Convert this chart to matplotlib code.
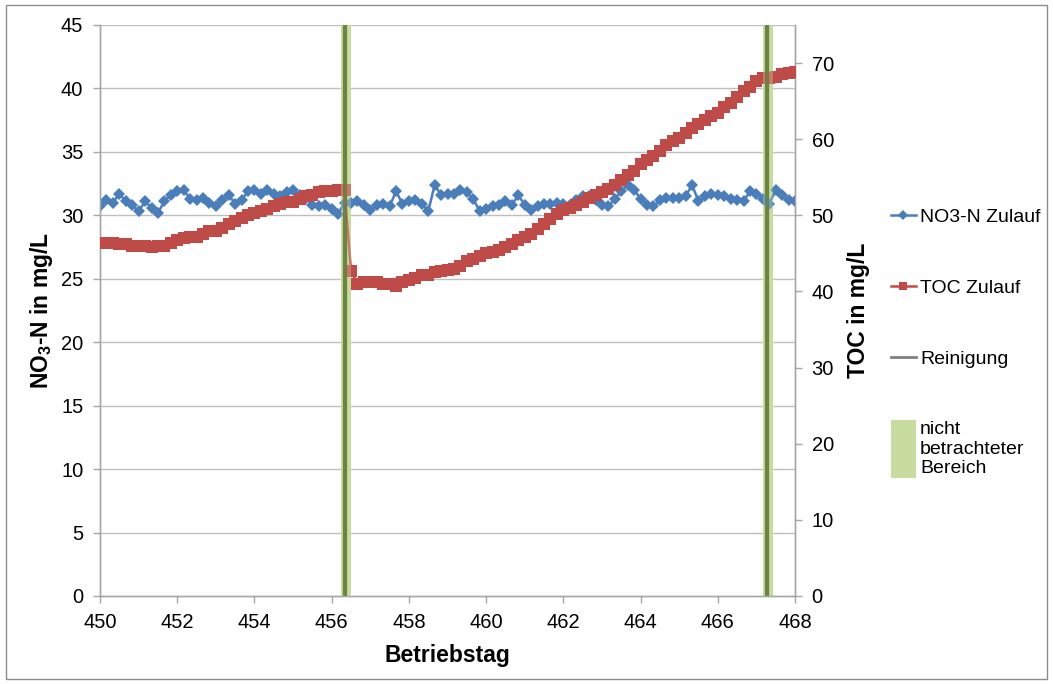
"""Nitrate and TOC in the inflow over the operating days, with cleaning events."""

import matplotlib
matplotlib.use("Agg")
import matplotlib.pyplot as plt
import numpy as np
from matplotlib.legend_handler import HandlerPatch
from matplotlib.lines import Line2D
from matplotlib.patches import Patch, Rectangle

plt.rcParams["font.family"] = ["Liberation Sans", "DejaVu Sans"]
plt.rcParams["mathtext.fontset"] = "custom"
plt.rcParams["mathtext.rm"] = "Liberation Sans"
plt.rcParams["mathtext.bf"] = "Liberation Sans:bold"

# ---------------------------------------------------------------------------
# Data (one sample every 4 hours)
# ---------------------------------------------------------------------------
days = np.linspace(450, 468, 109)

no3_n = [
    30.7, 31.2, 31.0, 31.7, 31.1, 30.8,
    30.3, 31.1, 30.6, 30.2, 31.1, 31.6,
    31.9, 32.0, 31.3, 31.2, 31.4, 31.0,
    30.7, 31.2, 31.6, 30.9, 31.2, 31.9,
    32.0, 31.7, 32.0, 31.7, 31.5, 31.8,
    32.0, 31.6, 31.4, 30.8, 30.7, 30.8,
    30.5, 30.1, 31.0, 31.0, 31.1, 30.8,
    30.4, 30.8, 30.9, 30.7, 31.9, 30.9,
    31.1, 31.2, 30.9, 30.3, 32.4, 31.6,
    31.7, 31.7, 32.0, 31.8, 31.3, 30.3,
    30.5, 30.7, 30.8, 31.1, 30.8, 31.6,
    30.8, 30.4, 30.7, 30.9, 30.9, 31.0,
    30.9, 30.8, 31.2, 31.5, 31.5, 31.2,
    30.8, 30.7, 31.3, 31.9, 32.4, 32.0,
    31.3, 30.8, 30.7, 31.2, 31.4, 31.4,
    31.4, 31.5, 32.4, 31.1, 31.5, 31.7,
    31.6, 31.5, 31.3, 31.2, 31.1, 31.9,
    31.7, 31.3, 30.9, 32.0, 31.6, 31.2,
    31.1,
]

toc = [
    46.3, 46.3, 46.3, 46.2, 46.2, 46.0,
    46.0, 46.0, 45.8, 46.0, 46.0, 46.3,
    46.8, 47.0, 47.2, 47.2, 47.5, 48.0,
    48.0, 48.3, 48.8, 49.3, 49.7, 50.0,
    50.3, 50.5, 50.8, 51.2, 51.5, 51.7,
    51.8, 52.2, 52.5, 52.7, 53.0, 53.2,
    53.2, 53.3, 53.3, 42.7, 41.0, 41.2,
    41.3, 41.2, 41.0, 41.0, 40.7, 41.3,
    41.5, 41.8, 42.2, 42.2, 42.5, 42.7,
    42.8, 43.0, 43.3, 44.0, 44.3, 44.7,
    45.0, 45.2, 45.5, 45.8, 46.2, 46.7,
    47.2, 47.5, 48.2, 48.8, 49.5, 50.2,
    50.7, 51.0, 51.3, 51.8, 52.3, 52.7,
    53.0, 53.5, 54.0, 54.7, 55.3, 55.8,
    56.7, 57.2, 57.8, 58.5, 59.2, 59.7,
    60.2, 60.8, 61.5, 62.0, 62.5, 63.0,
    63.5, 64.2, 64.8, 65.5, 66.3, 66.8,
    67.7, 68.0, 68.0, 68.2, 68.5, 68.7,
    68.8,
]

cleaning_days = [456.35, 467.28]
excluded_ranges = [(456.25, 456.50), (467.18, 467.43)]

# ---------------------------------------------------------------------------
# Styles
# ---------------------------------------------------------------------------
BLUE = "#4A7EBB"
RED = "#BE4B48"
BAND = "#C9DC9F"
CLEAN_LINE = "#56722F"
GRID = "#BFBFBF"
AXIS = "#A6A6A6"


def tall_patch(legend, orig_handle, xdescent, ydescent, width, height, fontsize):
    tall = 3.0 * fontsize
    return Rectangle((-xdescent, -ydescent + height / 2 - tall / 2), width, tall)


def main() -> None:
    fig = plt.figure(figsize=(10.53, 6.84), dpi=100)
    ax = fig.add_axes([0.095, 0.1287, 0.66, 0.8348])
    ax2 = ax.twinx()

    ax.set_xlim(450, 468)
    ax.set_ylim(0, 45)
    ax2.set_ylim(0, 75)
    ax.set_xticks(np.arange(450, 469, 2))
    ax.set_yticks(np.arange(0, 46, 5))
    ax2.set_yticks(np.arange(0, 71, 10))

    for y in np.arange(5, 46, 5):
        ax.axhline(y, color=GRID, linewidth=1.0, zorder=0)

    for (x0, x1) in excluded_ranges:
        ax.axvspan(x0, x1, color=BAND, linewidth=0, zorder=1)
    for xc in cleaning_days:
        ax.axvline(xc, color=CLEAN_LINE, linewidth=3.0, alpha=0.85, zorder=2)

    ax.plot(days, no3_n, color=BLUE, linewidth=1.8, marker="D",
            markersize=6.5, markeredgewidth=0, zorder=3)
    ax2.plot(days, toc, color=RED, linewidth=1.8, marker="s",
             markersize=8.5, markeredgewidth=0, zorder=3)
    # bands and cleaning lines once more, translucent, so the TOC line shows through
    for (x0, x1) in excluded_ranges:
        ax2.axvspan(x0, x1, color=BAND, alpha=0.35, linewidth=0, zorder=4)
    for xc in cleaning_days:
        ax2.axvline(xc, color=CLEAN_LINE, linewidth=3.0, alpha=0.6, zorder=5)

    for a in (ax, ax2):
        a.spines["top"].set_visible(False)
        for side in ("left", "right", "bottom"):
            a.spines[side].set_color(AXIS)
            a.spines[side].set_linewidth(1.0)
        a.tick_params(direction="out", length=5, width=1.0, color=AXIS,
                      labelsize=14.5, labelcolor="black", pad=7)

    ax.set_xlabel("Betriebstag", fontsize=16.5, fontweight="bold", labelpad=9)
    ax.set_ylabel(r"NO$_\mathbf{3}$-N in mg/L", fontsize=16.5,
                  fontweight="bold", labelpad=4)
    ax2.set_ylabel("TOC in mg/L", fontsize=16.5, fontweight="bold", labelpad=9)

    handles = [
        Line2D([0], [0], color=BLUE, linewidth=1.8, marker="D", markersize=5,
               markeredgewidth=0, label="NO3-N Zulauf"),
        Line2D([0], [0], color=RED, linewidth=1.8, marker="s", markersize=6,
               markeredgewidth=0, label="TOC Zulauf"),
        Line2D([0], [0], color="#808080", linewidth=2.0, label="Reinigung"),
        Patch(facecolor=BAND, edgecolor="none",
              label="nicht\nbetrachteter\nBereich"),
    ]
    fig.legend(handles=handles, loc="upper left", bbox_to_anchor=(0.846, 0.696),
               frameon=False, fontsize=14, labelspacing=2.75, handlelength=1.3,
               handletextpad=0.2, borderaxespad=0, borderpad=0,
               handler_map={Patch: HandlerPatch(patch_func=tall_patch)})

    fig.patches.append(Rectangle((0.006, 0.007), 0.988, 0.986, transform=fig.transFigure,
                                 fill=False, edgecolor="#8C8C8C", linewidth=1.0))

    fig.savefig("out.png", dpi=100, facecolor="white")
    plt.close(fig)


if __name__ == "__main__":
    main()
